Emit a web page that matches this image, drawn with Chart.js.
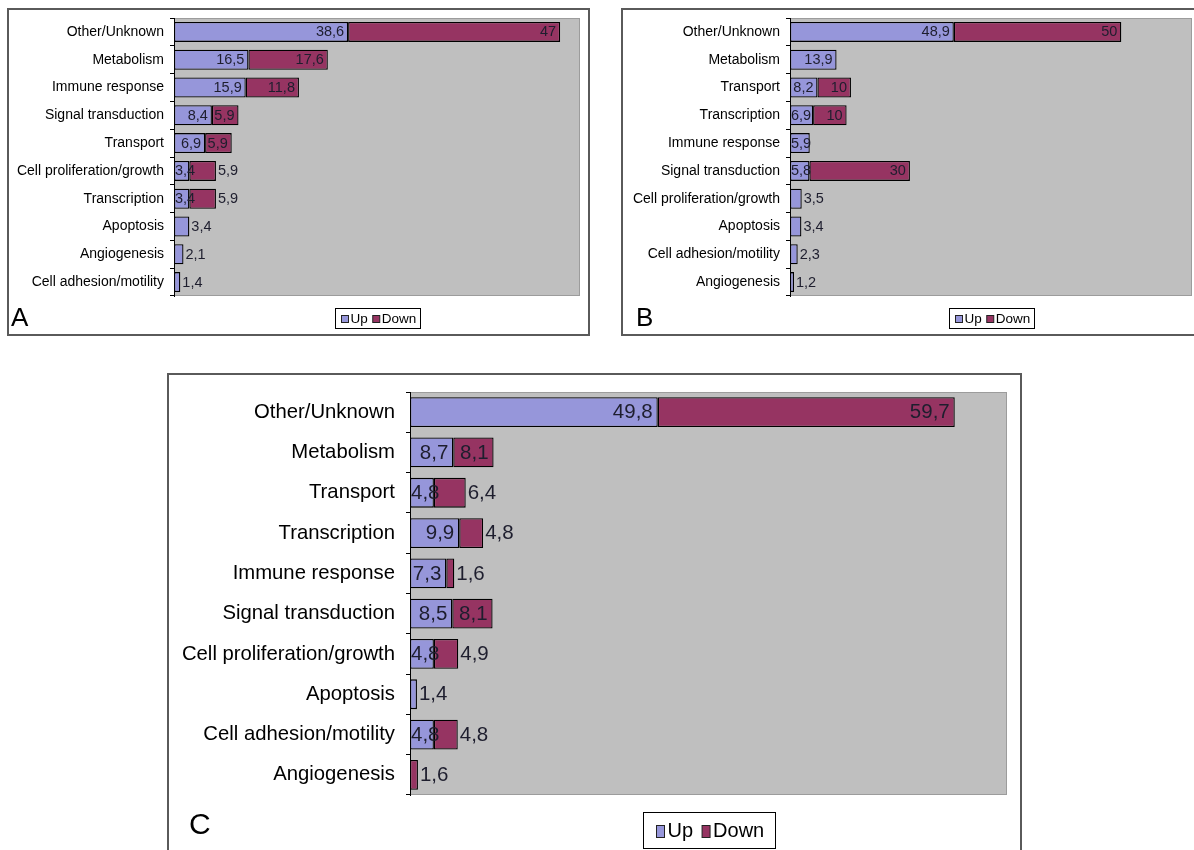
<!DOCTYPE html>
<html>
<head>
<meta charset="utf-8">
<script src="https://cdn.jsdelivr.net/npm/chart.js@4.4.0/dist/chart.umd.min.js"></script>
<style>
  html, body { margin:0; padding:0; background:#fff; width:1194px; height:850px; overflow:hidden; position:relative; }
  .panel { position:absolute; box-sizing:border-box; border:2px solid #5a5a5a; background:#fff; overflow:hidden; }
  .panel canvas { position:absolute; left:0; top:0; }
  .letter { position:absolute; font-family:"Liberation Sans", Arial, sans-serif; color:#000; line-height:1; }
</style>
</head>
<body>
<div class="panel" id="pA" style="left:7px; top:8px; width:583px; height:328px;"><canvas id="cA" width="579" height="324"></canvas></div>
<div class="panel" id="pB" style="left:621px; top:8px; width:620px; height:328px;"><canvas id="cB" width="575" height="324"></canvas></div>
<div class="panel" id="pC" style="left:167px; top:373px; width:855px; height:500px;"><canvas id="cC" width="851" height="496"></canvas></div>
<div class="letter" style="left:11px; top:304px; font-size:26px;">A</div>
<div class="letter" style="left:636px; top:304px; font-size:26px;">B</div>
<div class="letter" style="left:189px; top:809px; font-size:30px;">C</div>
<script>
// ---------- data ----------
const catsA = ["Other/Unknown","Metabolism","Immune response","Signal transduction","Transport","Cell proliferation/growth","Transcription","Apoptosis","Angiogenesis","Cell adhesion/motility"];
const upA   = [38.6, 16.5, 15.9, 8.4, 6.9, 3.4, 3.4, 3.4, 2.1, 1.4];
const downA = [47, 17.6, 11.8, 5.9, 5.9, 5.9, 5.9, null, null, null];

const catsB = ["Other/Unknown","Metabolism","Transport","Transcription","Immune response","Signal transduction","Cell proliferation/growth","Apoptosis","Cell adhesion/motility","Angiogenesis"];
const upB   = [48.9, 13.9, 8.2, 6.9, 5.9, 5.8, 3.5, 3.4, 2.3, 1.2];
const downB = [50, null, 10, 10, null, 30, null, null, null, null];

const catsC = ["Other/Unknown","Metabolism","Transport","Transcription","Immune response","Signal transduction","Cell proliferation/growth","Apoptosis","Cell adhesion/motility","Angiogenesis"];
const upC   = [49.8, 8.7, 4.8, 9.9, 7.3, 8.5, 4.8, 1.4, 4.8, null];
const downC = [59.7, 8.1, 6.4, 4.8, 1.6, 8.1, 4.9, null, 4.8, 1.6];

const seriesNames = ["Up", "Down"];
const xMaxA = 90, xMaxB = 120, xMaxC = 120;

// ---------- styles ----------
const FONT = '"Liberation Sans", Arial, sans-serif';
const UP_COLOR = '#9696da';
const DOWN_COLOR = '#963462';
const PLOT_BG = '#bfbfbf';

const plotBg = {
  id: 'plotBg',
  beforeDraw(chart) {
    const a = chart.chartArea, ctx = chart.ctx;
    ctx.save();
    ctx.fillStyle = PLOT_BG;
    ctx.fillRect(a.left, a.top, a.right - a.left, a.bottom - a.top);
    ctx.strokeStyle = '#9c9c9c';
    ctx.lineWidth = 1;
    ctx.strokeRect(a.left + 0.5, a.top + 0.5, a.right - a.left - 1, a.bottom - a.top - 1);
    ctx.restore();
  }
};

const fmt = v => String(v).replace('.', ',');

const valueLabels = {
  id: 'valueLabels',
  afterDatasetsDraw(chart, args, opts) {
    const ctx = chart.ctx;
    const m0 = chart.getDatasetMeta(0), m1 = chart.getDatasetMeta(1);
    const d0 = chart.data.datasets[0].data, d1 = chart.data.datasets[1].data;
    ctx.save();
    ctx.font = opts.font;
    ctx.fillStyle = opts.color;
    ctx.textBaseline = 'middle';
    ctx.textAlign = 'left';
    const inPad = opts.inPad, outPad = opts.outPad, gap = opts.gap;
    chart.data.labels.forEach((_, i) => {
      let upRight = null;
      const hasUp = d0[i] != null, hasDown = d1[i] != null;
      if (hasUp) {
        const el = m0.data[i];
        const s = Math.min(el.base, el.x), e = Math.max(el.base, el.x);
        const t = fmt(d0[i]);
        const w = ctx.measureText(t).width;
        const fits = w <= e - s + 1;
        let x;
        if (!hasDown && !fits) x = e + outPad;
        else x = Math.max(s + 1, e - inPad - w);
        ctx.fillText(t, x, el.y + opts.dy);
        upRight = x + w;
      }
      if (hasDown) {
        const el = m1.data[i];
        const s = Math.min(el.base, el.x), e = Math.max(el.base, el.x);
        const t = fmt(d1[i]);
        const w = ctx.measureText(t).width;
        let x = e - inPad - w;
        if (x < s + 1 || (upRight !== null && x < upRight + gap)) x = e + outPad;
        ctx.fillText(t, x, el.y + opts.dy);
      }
    });
    ctx.restore();
  }
};

const boxLegend = {
  id: 'boxLegend',
  afterDraw(chart, args, opts) {
    const ctx = chart.ctx, a = chart.chartArea;
    ctx.save();
    ctx.font = opts.font;
    ctx.textBaseline = 'middle';
    ctx.textAlign = 'left';
    const items = chart.data.datasets.map(ds => ({ text: ds.label, color: ds.backgroundColor, w: ctx.measureText(ds.label).width }));
    let content = 0;
    items.forEach((it, k) => { content += opts.mw + opts.mgap + it.w + (k < items.length - 1 ? opts.igap : 0); });
    const W = Math.round(content + 2 * opts.padX), H = opts.h;
    const cx = (a.left + a.right) / 2;
    const bx = Math.round(cx - W / 2) + 0.5, by = Math.round(a.bottom + opts.offsetY) + 0.5;
    ctx.fillStyle = '#fff';
    ctx.fillRect(bx, by, W, H);
    ctx.strokeStyle = '#000';
    ctx.lineWidth = 1;
    ctx.strokeRect(bx, by, W, H);
    let x = Math.round(bx + opts.padX) + 0.5;
    const cy = by + H / 2;
    items.forEach(it => {
      const my = Math.round(cy - opts.mh / 2) + 0.5;
      ctx.fillStyle = it.color;
      ctx.fillRect(x, my, opts.mw, opts.mh);
      ctx.strokeStyle = '#222';
      ctx.strokeRect(x, my, opts.mw, opts.mh);
      x += opts.mw + opts.mgap;
      ctx.fillStyle = '#000';
      ctx.fillText(it.text, x, cy + opts.dy);
      x += it.w + opts.igap;
    });
    ctx.restore();
  }
};

function makeChart(id, cats, up, down, xMax, s) {
  return new Chart(document.getElementById(id), {
    type: 'bar',
    data: {
      labels: cats,
      datasets: [
        { label: seriesNames[0], data: up, backgroundColor: UP_COLOR, borderColor: '#000', borderWidth: 1.3, borderSkipped: false, barPercentage: s.barPct, categoryPercentage: 1 },
        { label: seriesNames[1], data: down, backgroundColor: DOWN_COLOR, borderColor: '#000', borderWidth: 1.3, borderSkipped: false, barPercentage: s.barPct, categoryPercentage: 1 }
      ]
    },
    options: {
      indexAxis: 'y',
      responsive: false,
      animation: false,
      layout: { padding: { left: 0, right: s.padR, top: s.padT, bottom: s.padB } },
      scales: {
        x: { stacked: true, display: false, min: 0, max: xMax },
        y: {
          stacked: true,
          grid: { offset: true, drawOnChartArea: false, drawTicks: true, tickLength: s.tickLen, color: '#000', lineWidth: 1 },
          border: { display: true, color: '#000', width: 1 },
          ticks: { color: '#000', font: { family: FONT, size: s.catSize }, padding: s.tickPad, autoSkip: false },
          afterFit(scale) { scale.width = s.yWidth; scale.paddingTop = 0; scale.paddingBottom = 0; }
        }
      },
      plugins: {
        legend: { display: false },
        tooltip: { enabled: false },
        valueLabels: { font: s.valSize + 'px ' + FONT, color: '#1e1e2e', inPad: s.inPad, outPad: s.outPad, gap: s.gap, dy: 0.5 },
        boxLegend: s.legend
      }
    },
    plugins: [plotBg, valueLabels, boxLegend]
  });
}

makeChart('cA', catsA, upA, downA, xMaxA, {
  barPct: 0.72, padR: 8, padT: 8, padB: 38, yWidth: 165, tickLen: 4, tickPad: 6, catSize: 14, valSize: 14.5, inPad: 4, outPad: 2, gap: 4,
  legend: { font: '13.5px ' + FONT, mw: 7, mh: 7, mgap: 2, igap: 5, padX: 5, h: 20, offsetY: 12, dy: 0.5 }
});
makeChart('cB', catsB, upB, downB, xMaxB, {
  barPct: 0.72, padR: 6, padT: 8, padB: 38, yWidth: 167, tickLen: 4, tickPad: 6, catSize: 14, valSize: 14.5, inPad: 4, outPad: 2, gap: 4,
  legend: { font: '13.5px ' + FONT, mw: 7, mh: 7, mgap: 2, igap: 5, padX: 5, h: 20, offsetY: 12, dy: 0.5 }
});
makeChart('cC', catsC, upC, downC, xMaxC, {
  barPct: 0.74, padR: 13, padT: 17, padB: 76, yWidth: 241, tickLen: 4, tickPad: 11, catSize: 20.3, valSize: 20.5, inPad: 5, outPad: 2, gap: 4,
  legend: { font: '20px ' + FONT, mw: 8, mh: 12, mgap: 3, igap: 9, padX: 12, h: 36, offsetY: 17, dy: 1 }
});
</script>
</body>
</html>
